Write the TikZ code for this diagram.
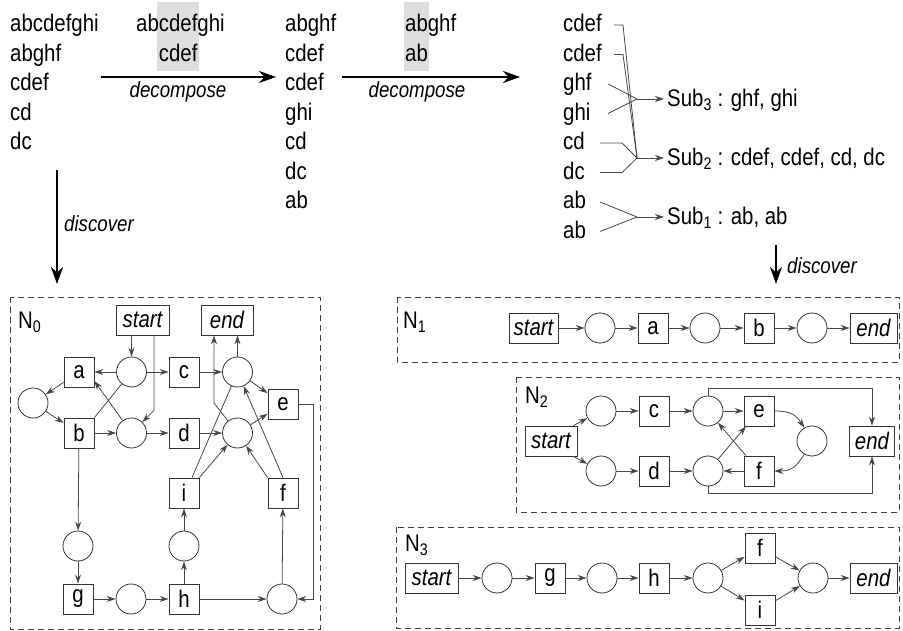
\documentclass[tikz,border=0pt]{standalone}
\usepackage{fontspec}
\setmainfont{Liberation Sans}[FakeStretch=0.85]
\usetikzlibrary{arrows.meta,calc}
\tikzset{
  trans/.style={rectangle, draw=black!80, line width=0.8pt, minimum width=30pt, minimum height=30pt, inner sep=0pt, fill=white},
  place/.style={circle, draw=black!80, line width=0.8pt, minimum size=30pt, inner sep=0pt, fill=white},
  term/.style={trans, minimum width=#1, font=\fontsize{24}{29}\selectfont\itshape},
  arc/.style={draw=black!72, line width=0.8pt, -{Stealth[length=9pt,width=6pt]}},
  link/.style={draw=black!72, line width=0.8pt},
  bigarrow/.style={draw=black, line width=2.4pt, -{Stealth[length=17pt,width=12pt]}},
  frame/.style={draw=black!75, line width=0.8pt, dash pattern=on 6pt off 4pt},
  hilite/.style={fill=black!13},
  txt/.style={anchor=base west, inner sep=0pt},
  lbl/.style={font=\fontsize{22}{26}\selectfont\itshape, inner sep=0pt},
  netname/.style={anchor=west, inner sep=0pt},
}
\begin{document}
\begin{tikzpicture}[x=1pt, y=-1pt, font=\fontsize{24}{29}\selectfont]
\useasboundingbox (0,0) rectangle (903,631);

% ---------- trace sets and decomposition steps ----------
\fill[hilite] (157,2) rectangle (199,71);
\fill[hilite] (404,2) rectangle (429,71);

\foreach \t [count=\k] in {abcdefghi,abghf,cdef,cd,dc}
  \node[txt] (l1-\k) at (10, 2.5+29.5*\k) {\t};
\node[txt] (l2-1) at (136,32) {abcdefghi};
\node[txt] (l2-2) at (136,61.5) {\phantom{ab}cdef};
\foreach \t [count=\k] in {abghf,cdef,cdef,ghi,cd,dc,ab}
  \node[txt] (l3-\k) at (285, 2.5+29.5*\k) {\t};
\node[txt] (l4-1) at (405,32) {abghf};
\node[txt] (l4-2) at (405,61.5) {ab};
\foreach \t [count=\k] in {cdef,cdef,ghf,ghi,cd,dc,ab,ab}
  \node[txt] (l5-\k) at (563, 2.5+29.5*\k) {\t};

\coordinate (dA) at (101,77);  \coordinate (dB) at (276,77);
\coordinate (dC) at (342,77);  \coordinate (dD) at (520,77);
\draw[bigarrow] (dA) -- (dB);
\draw[bigarrow] (dC) -- (dD);
\node[lbl] (dec1) at (178,92) {decompose};
\node[lbl] (dec2) at (417,92) {decompose};

% grouping into sublogs
\coordinate (j3) at (637,99);
\coordinate (j2) at (637,158);
\coordinate (j1) at (637,217);
\coordinate (q1) at (614,25);  \coordinate (q2) at (614,54.5);
\coordinate (q3) at (608,84);  \coordinate (q4) at (608,113.5);
\coordinate (q5) at (600,143); \coordinate (q6) at (600,172.5);
\coordinate (q7) at (600,202); \coordinate (q8) at (600,231.5);
\draw[link] (q1) -- ++(9,0) -- (j2);
\draw[link] (q2) -- ++(9,0) -- (j2);
\draw[link] (q3) -- (j3);
\draw[link] (q4) -- (j3);
\draw[link] (q5) -- ++(22,0) -- (j2);
\draw[link] (q6) -- ++(22,0) -- (j2);
\draw[link] (q7) -- (j1);
\draw[link] (q8) -- (j1);
\node[txt] (sub3) at (667,107) {Sub\textsubscript{3} : ghf, ghi};
\node[txt] (sub2) at (667,166) {Sub\textsubscript{2} : cdef, cdef, cd, dc};
\node[txt] (sub1) at (667,225) {Sub\textsubscript{1} : ab, ab};
\draw[arc, shorten >=3pt] (j3) -- (j3 -| sub3.west);
\draw[arc, shorten >=3pt] (j2) -- (j2 -| sub2.west);
\draw[arc, shorten >=3pt] (j1) -- (j1 -| sub1.west);

% discovery steps
\coordinate (vA) at (57,170);  \coordinate (vB) at (57,284);
\coordinate (vC) at (776,245); \coordinate (vD) at (776,284);
\draw[bigarrow] (vA) -- (vB);
\draw[bigarrow] (vC) -- (vD);
\node[lbl, anchor=west] (disc1) at (64,224) {discover};
\node[lbl, anchor=west] (disc2) at (787,266) {discover};

% ---------- net N0 ----------
\draw[frame] (10,297) rectangle (320,629);
\node[netname] (n0) at (18,322) {N\textsubscript{0}};
\node[term=53pt] (s0) at (142.5,320) {start};
\node[term=52pt] (e0) at (227,320) {end};
\node[trans] (a0) at (79,372) {a};
\node[place] (p01) at (131.5,372) {};
\node[trans] (c0) at (184,372) {c};
\node[place] (p03) at (237.5,372) {};
\node[place] (p00) at (33,403) {};
\node[trans] (ee0) at (283,404) {e};
\node[trans] (b0) at (79,433) {b};
\node[place] (p02) at (131.5,433) {};
\node[trans] (d0) at (184,433) {d};
\node[place] (p04) at (237.5,433) {};
\node[trans] (i0) at (184,493) {i};
\node[trans] (f0) at (283,493) {f};
\node[place] (p05) at (78,546) {};
\node[place] (p07) at (184,546) {};
\node[trans] (g0) at (78,599) {g};
\node[place] (p06) at (131,599) {};
\node[trans] (h0) at (184,599) {h};
\node[place] (p08) at (282,599) {};

\draw[arc] (s0.south -| p01) -- (p01);
\draw[arc] ($(s0.south)+(11.5,0)$) -- ++(0,75) -- (p02);
\draw[arc] (p01) -- (a0);
\draw[arc] (p01) -- (c0);
\draw[arc] (a0) -- (p00);
\draw[arc] (p00) -- (b0);
\draw[arc] (b0) -- (p02);
\draw[link] (b0.north east) -- (p01);
\draw[arc] (p02) -- ($(a0.east)+(0,9)$);
\draw[arc] (p02) -- (d0);
\draw[arc] (c0) -- (p03);
\draw[arc] (d0) -- (p04);
\draw[arc] (p03) -- (e0.south -| p03);
\coordinate (k1) at (214,403);
\draw[arc] (p04) -- (k1) -- (k1 |- e0.south);
\draw[arc] (p03) -- (ee0);
\draw[arc] (p04) -- (ee0);
\coordinate (k2) at (313,0);
\draw[arc] (ee0.east) -- (ee0.east -| k2) -- (p08.east -| k2) -- (p08.east);
\draw[link] ($(i0.north)+(8,0)$) -- (p03);
\draw[arc] (i0.north east) -- (p04);
\draw[arc] (f0.north) -- (p03);
\draw[arc] (f0.north west) -- (p04);
\draw[arc] (p08) -- (f0);
\draw[arc] (h0) -- (p08);
\draw[arc] (h0) -- (p07);
\draw[arc] (p07) -- (i0);
\draw[arc] (b0) -- (p05);
\draw[arc] (p05) -- (g0);
\draw[arc] (g0) -- (p06);
\draw[arc] (p06) -- (h0);

% ---------- net N1 ----------
\draw[frame] (397,297) rectangle (899,362);
\node[netname] (n1) at (403,322) {N\textsubscript{1}};
\node[term=49pt] (s1) at (533.5,328) {start};
\node[place] (p11) at (600,328) {};
\node[trans] (a1) at (653,328) {a};
\node[place] (p12) at (705,328) {};
\node[trans] (b1) at (759,328) {b};
\node[place] (p13) at (812,328) {};
\node[term=47pt] (e1) at (873.5,328) {end};
\draw[arc] (s1) -- (p11);
\draw[arc] (p11) -- (a1);
\draw[arc] (a1) -- (p12);
\draw[arc] (p12) -- (b1);
\draw[arc] (b1) -- (p13);
\draw[arc] (p13) -- (e1);

% ---------- net N2 ----------
\draw[frame] (516,377) rectangle (899,512);
\node[netname] (n2) at (525,397) {N\textsubscript{2}};
\node[term=52pt] (s2) at (551,441) {start};
\node[place] (p21) at (601,411) {};
\node[place] (p22) at (601,471) {};
\node[trans] (c2) at (654,411) {c};
\node[trans] (d2) at (654,471) {d};
\node[place] (p23) at (708,411) {};
\node[place] (p24) at (708,471) {};
\node[trans] (ee2) at (759,411) {e};
\node[trans] (f2) at (759,471) {f};
\node[place] (p25) at (812,441) {};
\node[term=45pt] (e2) at (872,441) {end};
\draw[arc] ($(s2.north east)+(-4,0)$) -- (p21);
\draw[arc] ($(s2.south east)+(-4,0)$) -- (p22);
\draw[arc] (p21) -- (c2);
\draw[arc] (c2) -- (p23);
\draw[arc] (p22) -- (d2);
\draw[arc] (d2) -- (p24);
\draw[arc] (p23) -- (ee2);
\draw[arc] (p24) -- (ee2);
\draw[arc] (f2) -- (p23);
\draw[arc] (f2) -- (p24);
\draw[arc] (ee2.east) .. controls +(18,0) and +(-8,-12) .. (p25.120);
\draw[arc] (p25.240) .. controls +(-8,12) and +(18,0) .. (f2.east);
\coordinate (t2) at (872,388);
\coordinate (u2) at (872,493);
\draw[arc] (p23.north) -- (p23.north |- t2) -- (t2) -- (e2.north);
\draw[arc] (p24.south) -- (p24.south |- u2) -- (u2) -- (e2.south);

% ---------- net N3 ----------
\draw[frame] (396,527) rectangle (899,628);
\node[netname] (n3) at (405,545) {N\textsubscript{3}};
\node[term=53pt] (s3) at (431.5,578) {start};
\node[place] (p31) at (497,578) {};
\node[trans] (g3) at (550,578) {g};
\node[place] (p32) at (602,578) {};
\node[trans] (h3) at (654,578) {h};
\node[place] (p33) at (708,578) {};
\node[trans] (f3) at (760,548) {f};
\node[trans] (i3) at (760,610) {i};
\node[place] (p34) at (813,578) {};
\node[term=47pt] (e3) at (873.5,578) {end};
\draw[arc] (s3) -- (p31);
\draw[arc] (p31) -- (g3);
\draw[arc] (g3) -- (p32);
\draw[arc] (p32) -- (h3);
\draw[arc] (h3) -- (p33);
\draw[arc] (p33) -- (f3);
\draw[arc] (p33) -- (i3);
\draw[arc] (f3) -- (p34);
\draw[arc] (i3) -- (p34);
\draw[arc] (p34) -- (e3);
\end{tikzpicture}
\end{document}
